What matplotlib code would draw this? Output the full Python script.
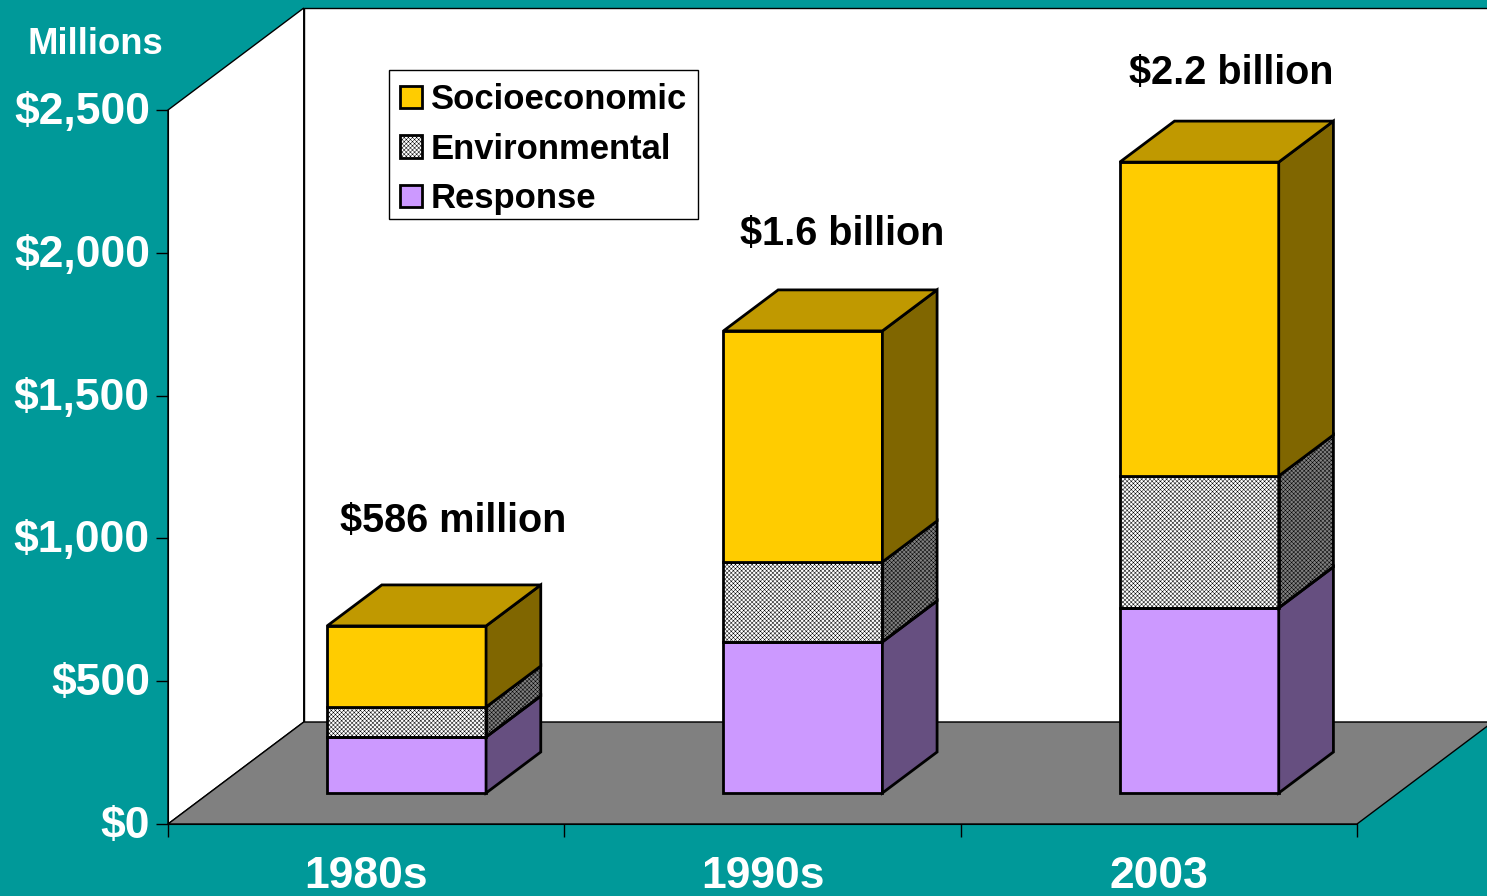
import matplotlib
matplotlib.use("Agg")
import matplotlib.pyplot as plt
from matplotlib.patches import Polygon, Patch, Rectangle
from matplotlib.transforms import ScaledTranslation

plt.rcParams['font.family'] = ['Liberation Sans', 'DejaVu Sans']
plt.rcParams['font.weight'] = 'bold'
plt.rcParams['hatch.linewidth'] = 0.35

W, H = 1487, 896
TEAL = '#009999'

# values in $ millions
periods = ['1980s', '1990s', '2003']
response = [196, 529, 648]
environmental = [105, 280, 462]
socioeconomic = [284, 809, 1099]
totals = ['$586 million', '$1.6 billion', '$2.2 billion']
yticks = [0, 500, 1000, 1500, 2000, 2500]

# 3d look: how far the floor and the bars go back, in data units
FLOOR_DX, FLOOR_DY = 0.3425, 357
START_DX, START_DY = 0.102, 108.5
BAR_DX, BAR_DY = 0.138, 143.6
BAR_W = 0.401
HATCH = 'xxxxxxxx'

fig = plt.figure(figsize=(W / 100, H / 100), dpi=100, facecolor=TEAL)
ax = fig.add_axes([168 / W, (H - 824) / H, 1189 / W, 714 / H])
ax.set_facecolor('none')
ax.set_xlim(0, 3)
ax.set_ylim(0, 2500)
for s in ['top', 'right']:
    ax.spines[s].set_visible(False)


def poly(pts, **kw):
    kw.setdefault('edgecolor', 'black')
    kw.setdefault('linewidth', 1)
    p = Polygon(pts, closed=True, clip_on=False, **kw)
    ax.add_patch(p)
    return p


# walls and floor
top = 2500 + FLOOR_DY
poly([(0, 0), (FLOOR_DX, FLOOR_DY), (FLOOR_DX, top), (0, 2500)], facecolor='white', zorder=1)
poly([(FLOOR_DX, FLOOR_DY), (3 + FLOOR_DX, FLOOR_DY), (3 + FLOOR_DX, top), (FLOOR_DX, top)],
     facecolor='white', zorder=1)
poly([(0, 0), (3, 0), (3 + FLOOR_DX, FLOOR_DY), (FLOOR_DX, FLOOR_DY)], facecolor='#808080', zorder=2)

series = [
    ('Response', response, '#CC99FF', '#664F80', None),
    ('Environmental', environmental, 'white', '#808080', HATCH),
    ('Socioeconomic', socioeconomic, '#FFCC00', '#806600', None),
]

for i in range(len(periods)):
    x0 = i + 0.5 + START_DX - BAR_W / 2
    x1 = x0 + BAR_W
    base = START_DY
    for name, vals, front, side, hatch in series:
        v = vals[i]
        front_pts = [(x0, base), (x1, base), (x1, base + v), (x0, base + v)]
        side_pts = [(x1, base), (x1 + BAR_DX, base + BAR_DY),
                    (x1 + BAR_DX, base + v + BAR_DY), (x1, base + v)]
        if hatch:
            # hatch takes the edge colour, so the outline goes on separately
            poly(front_pts, facecolor=front, hatch=hatch, linewidth=0, zorder=3)
            poly(side_pts, facecolor=side, hatch=hatch, linewidth=0, zorder=3)
            poly(front_pts, fill=False, linewidth=2, zorder=4)
            poly(side_pts, fill=False, linewidth=2, zorder=4)
        else:
            poly(front_pts, facecolor=front, linewidth=2, zorder=4)
            poly(side_pts, facecolor=side, linewidth=2, zorder=4)
        base += v
    poly([(x0, base), (x1, base), (x1 + BAR_DX, base + BAR_DY), (x0 + BAR_DX, base + BAR_DY)],
         facecolor='#C09900', linewidth=2, zorder=4)

# axes
ax.set_yticks(yticks)
ax.set_yticklabels(['$' + format(v, ',') for v in yticks])
ax.set_xticks([0, 1, 2, 3])
ax.set_xticklabels([])
ax.set_xticks([0.5, 1.5, 2.5], labels=periods, minor=True)
ax.tick_params(axis='y', length=9, width=1, color='black', pad=4, labelsize=32, labelcolor='white')
ax.tick_params(axis='x', which='major', length=9, width=1, color='black')
ax.tick_params(axis='x', which='minor', length=0, pad=23, labelsize=32, labelcolor='white')
for s in ['left', 'bottom']:
    ax.spines[s].set_zorder(5)

# tick labels sit a little above the tick in the original
lift = ScaledTranslation(0, 2 / 100, fig.dpi_scale_trans)
for t in ax.get_yticklabels():
    t.set_transform(t.get_transform() + lift)


def label(x, y, s, size, color):
    fig.text(x / W, 1 - y / H, s, fontsize=size, color=color, fontweight='bold',
             ha='left', va='baseline')


label(28, 54, 'Millions', 26.3, 'white')
label(340, 532, totals[0], 28.5, 'black')
label(740, 245, totals[1], 28.5, 'black')
label(1129, 84, totals[2], 28.5, 'black')

# legend box drawn by hand so the rows can sit lower inside it
fig.add_artist(Rectangle((389 / W, 1 - 219 / H), 309 / W, 149 / H, transform=fig.transFigure,
                         facecolor='white', edgecolor='black', linewidth=1, zorder=9))
handles = [
    Patch(facecolor='#FFCC00', edgecolor='black', linewidth=2, label='Socioeconomic'),
    Patch(facecolor='white', edgecolor='black', linewidth=2, hatch=HATCH, label='Environmental'),
    Patch(facecolor='#CC99FF', edgecolor='black', linewidth=2, label='Response'),
]
leg = fig.legend(handles=handles, loc='upper left', bbox_to_anchor=(390 / W, 1 - 73 / H),
                 borderaxespad=0, frameon=False, fontsize=24.9,
                 handlelength=0.62, handleheight=0.62, handletextpad=0.26, labelspacing=0.47,
                 borderpad=0.3)
leg.set_zorder(10)

fig.savefig('out.png', dpi=100, facecolor=TEAL)
